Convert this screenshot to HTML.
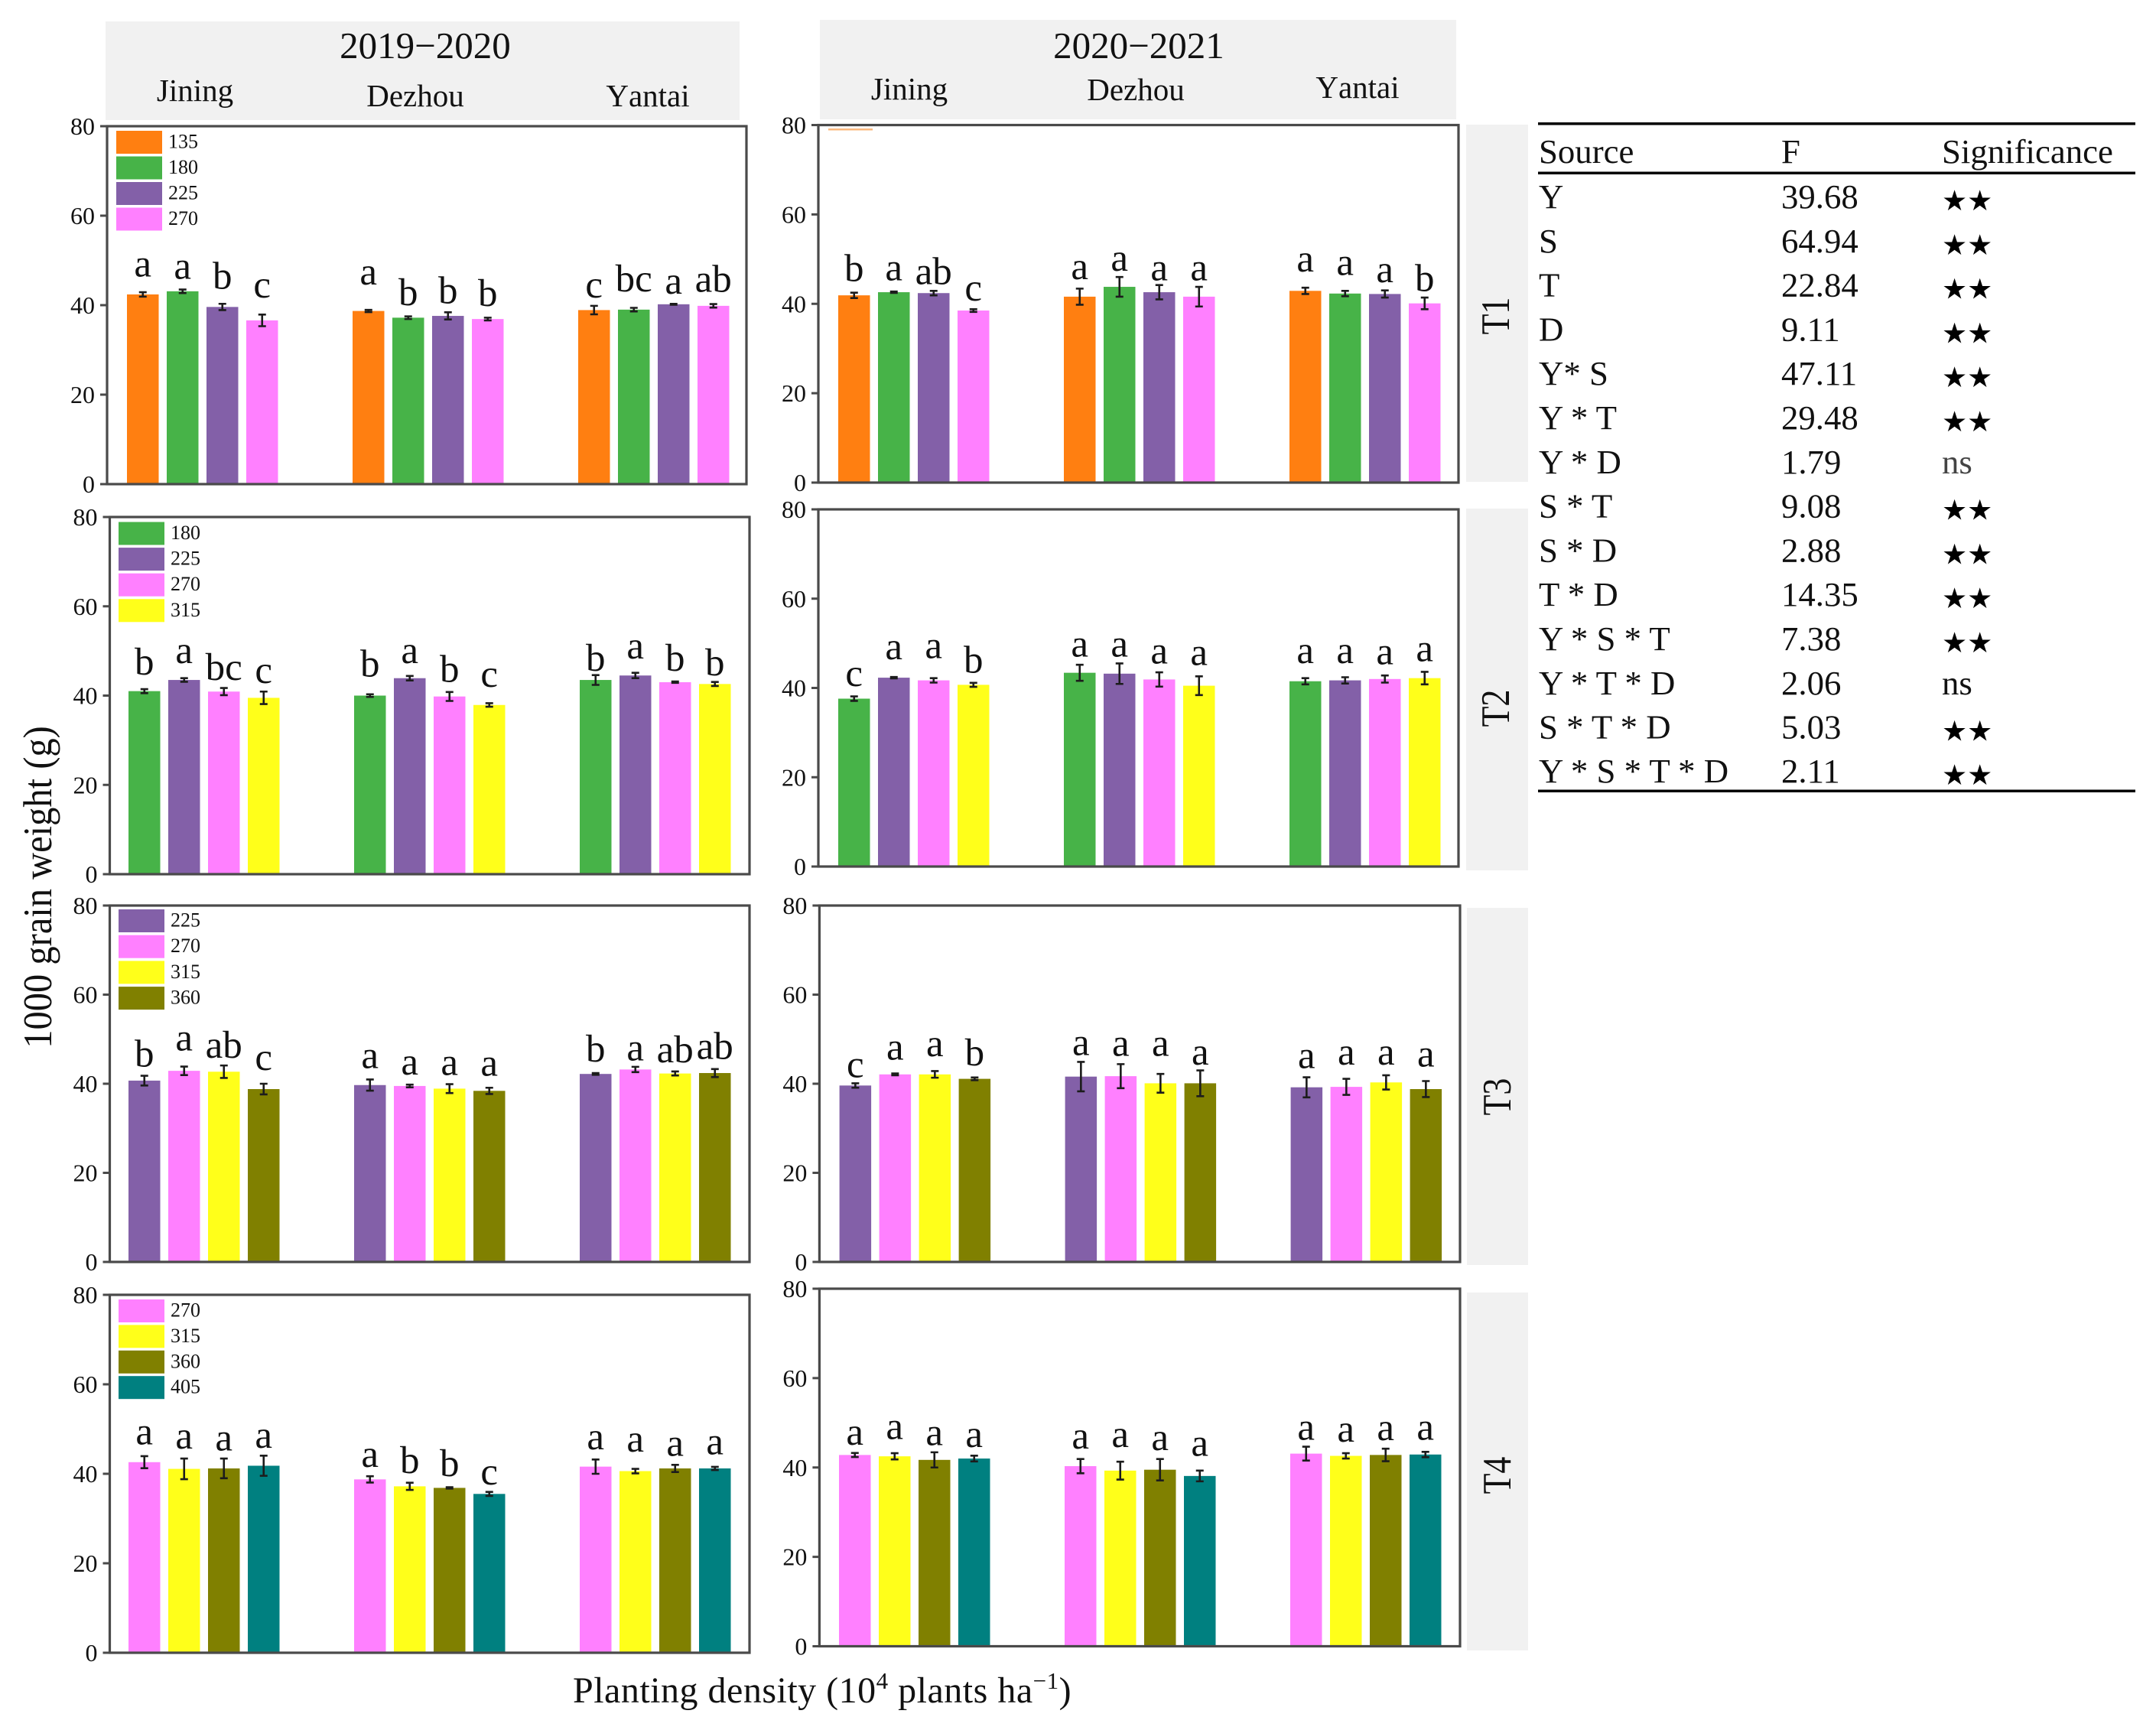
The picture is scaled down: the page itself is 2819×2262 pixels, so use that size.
<!DOCTYPE html>
<html lang="en">
<head>
<meta charset="utf-8">
<title>1000 grain weight by planting density</title>
<style>
html,body{margin:0;padding:0;background:#fff;}
svg{display:block;}
text{font-family:"Liberation Serif",serif;fill:#111;}
</style>
</head>
<body>
<svg id="chart" xmlns="http://www.w3.org/2000/svg" width="2819" height="2262" viewBox="0 0 2819 2262">
  <rect x="138" y="28" width="829" height="129" fill="#f1f1f1"/>
  <rect x="1072" y="26" width="832" height="130" fill="#f1f1f1"/>
  <rect x="1917" y="163" width="81" height="467" fill="#f1f1f1"/>
  <rect x="1917" y="665" width="81" height="473" fill="#f1f1f1"/>
  <rect x="1918" y="1187" width="80" height="467" fill="#f1f1f1"/>
  <rect x="1918" y="1690" width="80" height="468" fill="#f1f1f1"/>

  <text x="556" y="76" font-size="49" text-anchor="middle">2019−2020</text>
  <text x="1489" y="76" font-size="49" text-anchor="middle">2020−2021</text>
  <text x="255" y="132" font-size="41" text-anchor="middle">Jining</text>
  <text x="543" y="139" font-size="41" text-anchor="middle">Dezhou</text>
  <text x="847" y="139" font-size="41" text-anchor="middle" style="font-kerning:none">Yantai</text>
  <text x="1189" y="130" font-size="41" text-anchor="middle">Jining</text>
  <text x="1485" y="131" font-size="41" text-anchor="middle">Dezhou</text>
  <text x="1775" y="128" font-size="41" text-anchor="middle" style="font-kerning:none">Yantai</text>

  <text transform="translate(1973,413) rotate(-90) scale(1,1.2)" font-size="44" text-anchor="middle">T1</text>
  <text transform="translate(1973,926) rotate(-90) scale(1,1.2)" font-size="44" text-anchor="middle">T2</text>
  <text transform="translate(1975,1434) rotate(-90) scale(1,1.2)" font-size="44" text-anchor="middle">T3</text>
  <text transform="translate(1975,1929) rotate(-90) scale(1,1.2)" font-size="44" text-anchor="middle">T4</text>

  <text transform="translate(67,1160) rotate(-90) scale(1,1.1)" font-size="48.500" text-anchor="middle">1000 grain weight (g)</text>
  <text x="749" y="2226" font-size="48" letter-spacing="0.5">Planting density (10<tspan font-size="31" dy="-18">4</tspan><tspan dy="18"> plants ha</tspan><tspan font-size="31" dy="-18">−1</tspan><tspan dy="18">)</tspan></text>

  <rect x="1083" y="168" width="58" height="2.5" fill="#fbb97f"/>

  <g id="panels"></g>

  <g font-size="44.800">
    <rect x="2011" y="160" width="781" height="3.5" fill="#000"/>
    <rect x="2011" y="224.5" width="781" height="3.5" fill="#000"/>
    <rect x="2011" y="1032.5" width="781" height="3.5" fill="#000"/>
    <text x="2012" y="213">Source</text>
    <text x="2329" y="213">F</text>
    <text x="2539" y="213">Significance</text>

    <text x="2012" y="272">Y</text><text x="2329" y="272">39.68</text><text class="st" x="2539" y="275">★★</text>
    <text x="2012" y="330">S</text><text x="2329" y="330">64.94</text><text class="st" x="2539" y="333">★★</text>
    <text x="2012" y="387.500">T</text><text x="2329" y="387.500">22.84</text><text class="st" x="2539" y="390.500">★★</text>
    <text x="2012" y="445.500">D</text><text x="2329" y="445.500">9.11</text><text class="st" x="2539" y="448.500">★★</text>
    <text x="2012" y="503">Y* S</text><text x="2329" y="503">47.11</text><text class="st" x="2539" y="506">★★</text>
    <text x="2012" y="561">Y * T</text><text x="2329" y="561">29.48</text><text class="st" x="2539" y="564">★★</text>
    <text x="2012" y="619">Y * D</text><text x="2329" y="619">1.79</text><text x="2539" y="619" style="fill:#444">ns</text>
    <text x="2012" y="676.500">S * T</text><text x="2329" y="676.500">9.08</text><text class="st" x="2539" y="679.500">★★</text>
    <text x="2012" y="734.500">S * D</text><text x="2329" y="734.500">2.88</text><text class="st" x="2539" y="737.500">★★</text>
    <text x="2012" y="792">T * D</text><text x="2329" y="792">14.35</text><text class="st" x="2539" y="795">★★</text>
    <text x="2012" y="850">Y * S * T</text><text x="2329" y="850">7.38</text><text class="st" x="2539" y="853">★★</text>
    <text x="2012" y="908">Y * T * D</text><text x="2329" y="908">2.06</text><text x="2539" y="908">ns</text>
    <text x="2012" y="965.500">S * T * D</text><text x="2329" y="965.500">5.03</text><text class="st" x="2539" y="968.500">★★</text>
    <text x="2012" y="1023">Y * S * T * D</text><text x="2329" y="1023">2.11</text><text class="st" x="2539" y="1026">★★</text>
  </g>
</svg>
<style>
.st{font-family:"DejaVu Sans",sans-serif;font-size:37px;fill:#000;}
</style>
<script>
// ---- categories and tick labels ----
const yTicks = [0, 20, 40, 60, 80];
const sites = ['Jining', 'Dezhou', 'Yantai'];
const t1Densities = [135, 180, 225, 270];
const t2Densities = [180, 225, 270, 315];
const t3Densities = [225, 270, 315, 360];
const t4Densities = [270, 315, 360, 405];

// ---- series values (g), one per bar: 4 bars in each of 3 sites ----
const t1s1Values = [42.4, 43.1, 39.6, 36.6, 38.7, 37.2, 37.6, 36.9, 38.9, 39.0, 40.2, 39.85];
const t1s1Errors = [0.5, 0.4, 0.7, 1.3, 0.25, 0.3, 0.8, 0.3, 0.95, 0.4, 0.1, 0.4];
const t1s1Letters = ['a', 'a', 'b', 'c', 'a', 'b', 'b', 'b', 'c', 'bc', 'a', 'ab'];
const t1s1LetterGaps = [4.0, 2.8, 4.1, 5.1, 5.9, 2.8, 2.8, 2.9, 2.8, 4.1, 2.4, 3.15];

const t1s2Values = [41.9, 42.6, 42.4, 38.5, 41.6, 43.8, 42.6, 41.6, 42.9, 42.3, 42.2, 40.1];
const t1s2Errors = [0.6, 0.15, 0.5, 0.3, 1.8, 2.2, 1.6, 2.2, 0.7, 0.6, 0.8, 1.3];
const t1s2Letters = ['b', 'a', 'ab', 'c', 'a', 'a', 'a', 'a', 'a', 'a', 'a', 'b'];
const t1s2LetterGaps = [3.2, 2.7, 2.0, 2.2, 3.9, 3.6, 2.7, 3.7, 4.3, 4.2, 2.6, 2.8];

const t2s1Values = [41.0, 43.5, 40.9, 39.5, 40.0, 43.9, 39.8, 37.9, 43.5, 44.5, 43.0, 42.6];
const t2s1Errors = [0.45, 0.4, 0.8, 1.4, 0.3, 0.5, 1.0, 0.4, 1.1, 0.6, 0.15, 0.45];
const t2s1Letters = ['b', 'a', 'bc', 'c', 'b', 'a', 'b', 'c', 'b', 'a', 'b', 'b'];
const t2s1LetterGaps = [3.7, 3.8, 2.6, 3.3, 4.3, 3.4, 3.3, 4.1, 2.05, 3.8, 2.6, 1.9];

const t2s2Values = [37.6, 42.3, 41.7, 40.7, 43.4, 43.2, 41.9, 40.5, 41.5, 41.7, 42.0, 42.2];
const t2s2Errors = [0.5, 0.15, 0.5, 0.45, 1.8, 2.3, 1.6, 2.1, 0.7, 0.7, 0.8, 1.4];
const t2s2Letters = ['c', 'a', 'a', 'b', 'a', 'a', 'a', 'a', 'a', 'a', 'a', 'a'];
const t2s2LetterGaps = [2.85, 4.1, 5.0, 2.7, 3.6, 3.8, 3.6, 4.6, 4.1, 3.9, 3.3, 3.8];

const t3s1Values = [40.7, 42.9, 42.7, 38.8, 39.7, 39.5, 38.9, 38.4, 42.2, 43.2, 42.3, 42.4];
const t3s1Errors = [1.1, 0.95, 1.4, 1.2, 1.25, 0.3, 1.0, 0.7, 0.2, 0.6, 0.45, 0.9];
const t3s1Letters = ['b', 'a', 'ab', 'c', 'a', 'a', 'a', 'a', 'b', 'a', 'ab', 'ab'];
const t3s1LetterGaps = [3.2, 4.6, 3.1, 4.3, 3.8, 2.6, 3.1, 3.4, 2.8, 2.0, 2.5, 3.2];

const t3s2Values = [39.6, 42.1, 42.1, 41.1, 41.6, 41.7, 40.1, 40.1, 39.2, 39.3, 40.3, 38.8];
const t3s2Errors = [0.5, 0.2, 0.75, 0.3, 3.3, 2.7, 2.1, 2.9, 2.25, 1.8, 1.6, 1.8];
const t3s2Letters = ['c', 'a', 'a', 'b', 'a', 'a', 'a', 'a', 'a', 'a', 'a', 'a'];
const t3s2LetterGaps = [1.9, 3.3, 4.1, 3.0, 4.8, 4.6, 6.2, 4.2, 4.3, 5.0, 4.0, 5.1];

const t4s1Values = [42.6, 41.1, 41.2, 41.8, 38.75, 37.2, 36.85, 35.5, 41.6, 40.6, 41.2, 41.2];
const t4s1Errors = [1.35, 2.3, 2.2, 2.25, 0.7, 0.8, 0.15, 0.45, 1.6, 0.5, 0.8, 0.35];
const t4s1Letters = ['a', 'a', 'a', 'a', 'a', 'b', 'b', 'c', 'a', 'a', 'a', 'a'];
const t4s1LetterGaps = [4.0, 4.5, 4.0, 4.0, 2.8, 3.0, 2.6, 2.1, 3.9, 4.4, 2.8, 3.2];

const t4s2Values = [42.8, 42.5, 41.7, 42.0, 40.3, 39.3, 39.5, 38.1, 43.1, 42.6, 42.8, 42.9];
const t4s2Errors = [0.45, 0.7, 1.7, 0.65, 1.6, 2.0, 2.4, 1.2, 1.55, 0.6, 1.4, 0.6];
const t4s2Letters = ['a', 'a', 'a', 'a', 'a', 'a', 'a', 'a', 'a', 'a', 'a', 'a'];
const t4s2LetterGaps = [2.3, 3.9, 3.3, 2.6, 3.9, 5.3, 4.4, 4.5, 3.1, 3.2, 3.3, 3.3];

// ---- styling and layout (not data) ----
const densityColors = {135:'#ff7f11',180:'#47b348',225:'#8360a8',270:'#ff80ff',315:'#ffff1a',360:'#808000',405:'#008080'};
const NS = 'http://www.w3.org/2000/svg';
const BAR_W = 41.5, BAR_STEP = 52, GROUP_STEP = 295, Y_MAX = 80;
const root = document.getElementById('panels');

function add(parent, tag, attrs, txt) {
  const el = document.createElementNS(NS, tag);
  for (const k in attrs) el.setAttribute(k, attrs[k]);
  if (txt !== undefined) el.textContent = txt;
  parent.appendChild(el);
  return el;
}
function yScale(frame, v) { return frame.b - (v / Y_MAX) * (frame.b - frame.t); }
function xScale(frame, i) {
  const site = Math.floor(i / 4), bar = i % 4;
  return frame.x0 + site * GROUP_STEP + bar * BAR_STEP;
}

function drawPanel(p) {
  const f = p.frame;
  const g = add(root, 'g', {});
  
  

  p.values.forEach(function (v, i) {
    const x = xScale(f, i), y = yScale(f, v);
    const bar = add(g, 'rect', {x: x, y: y, width: BAR_W, height: f.b - y, fill: densityColors[p.densities[i % 4]]});
    
    

    const cx = x + BAR_W / 2, top = yScale(f, v + p.errors[i]), bot = yScale(f, v - p.errors[i]);
    const err = add(g, 'path', {d: 'M' + cx + ' ' + top + 'V' + bot + 'M' + (cx - 5) + ' ' + top + 'H' + (cx + 5) + 'M' + (cx - 5) + ' ' + bot + 'H' + (cx + 5), stroke: '#1c1c1c', 'stroke-width': 2.6, fill: 'none'});
    
    

    const letter = add(g, 'text', {x: cx, y: yScale(f, v + p.gaps[i]), 'font-size': 51, 'text-anchor': 'middle'}, p.letters[i]);
    
    
  });

  const box = add(g, 'rect', {x: f.l, y: f.t, width: f.r - f.l, height: f.b - f.t, fill: 'none', stroke: '#4a4a4a', 'stroke-width': 3.2});
  
  

  yTicks.forEach(function (t) {
    const y = yScale(f, t);
    const tick = add(g, 'line', {x1: f.l - 9, x2: f.l, y1: y, y2: y, stroke: '#4a4a4a', 'stroke-width': 3});
    
    
    const lab = add(g, 'text', {x: f.l - 16, y: y + 11, 'font-size': 32, 'text-anchor': 'end'}, t);
    
    
  });

  if (p.legend) {
    p.densities.forEach(function (d, i) {
      const y = p.legend.y + i * p.legend.step;
      const sw = add(g, 'rect', {x: p.legend.x, y: y, width: 60, height: p.legend.h, fill: densityColors[d]});
      
      
      const lt = add(g, 'text', {x: p.legend.x + 68, y: y + p.legend.h / 2 + 7.5, 'font-size': 26}, d);
      
      
    });
  }
}

drawPanel({id:'t1-2019', frame:{l:140, r:976, t:165, b:633, x0:166}, densities:t1Densities, values:t1s1Values, errors:t1s1Errors, letters:t1s1Letters, gaps:t1s1LetterGaps, legend:{x:152, y:171, step:33.5, h:30}});
drawPanel({id:'t1-2020', frame:{l:1070, r:1907, t:163.5, b:631, x0:1096}, densities:t1Densities, values:t1s2Values, errors:t1s2Errors, letters:t1s2Letters, gaps:t1s2LetterGaps});
drawPanel({id:'t2-2019', frame:{l:143.5, r:980, t:676, b:1143, x0:168}, densities:t2Densities, values:t2s1Values, errors:t2s1Errors, letters:t2s1Letters, gaps:t2s1LetterGaps, legend:{x:155, y:682.5, step:33.6, h:30}});
drawPanel({id:'t2-2020', frame:{l:1070, r:1907, t:666, b:1133, x0:1096}, densities:t2Densities, values:t2s2Values, errors:t2s2Errors, letters:t2s2Letters, gaps:t2s2LetterGaps});
drawPanel({id:'t3-2019', frame:{l:143.5, r:980, t:1184, b:1650, x0:168}, densities:t3Densities, values:t3s1Values, errors:t3s1Errors, letters:t3s1Letters, gaps:t3s1LetterGaps, legend:{x:155, y:1189, step:33.7, h:30}});
drawPanel({id:'t3-2020', frame:{l:1071.4, r:1909, t:1184, b:1650, x0:1097.6}, densities:t3Densities, values:t3s2Values, errors:t3s2Errors, letters:t3s2Letters, gaps:t3s2LetterGaps});
drawPanel({id:'t4-2019', frame:{l:143.5, r:980, t:1693, b:2161, x0:168}, densities:t4Densities, values:t4s1Values, errors:t4s1Errors, letters:t4s1Letters, gaps:t4s1LetterGaps, legend:{x:155, y:1699, step:33.4, h:30}});
drawPanel({id:'t4-2020', frame:{l:1071.4, r:1909, t:1685, b:2152.5, x0:1097}, densities:t4Densities, values:t4s2Values, errors:t4s2Errors, letters:t4s2Letters, gaps:t4s2LetterGaps});
</script>
</body>
</html>
